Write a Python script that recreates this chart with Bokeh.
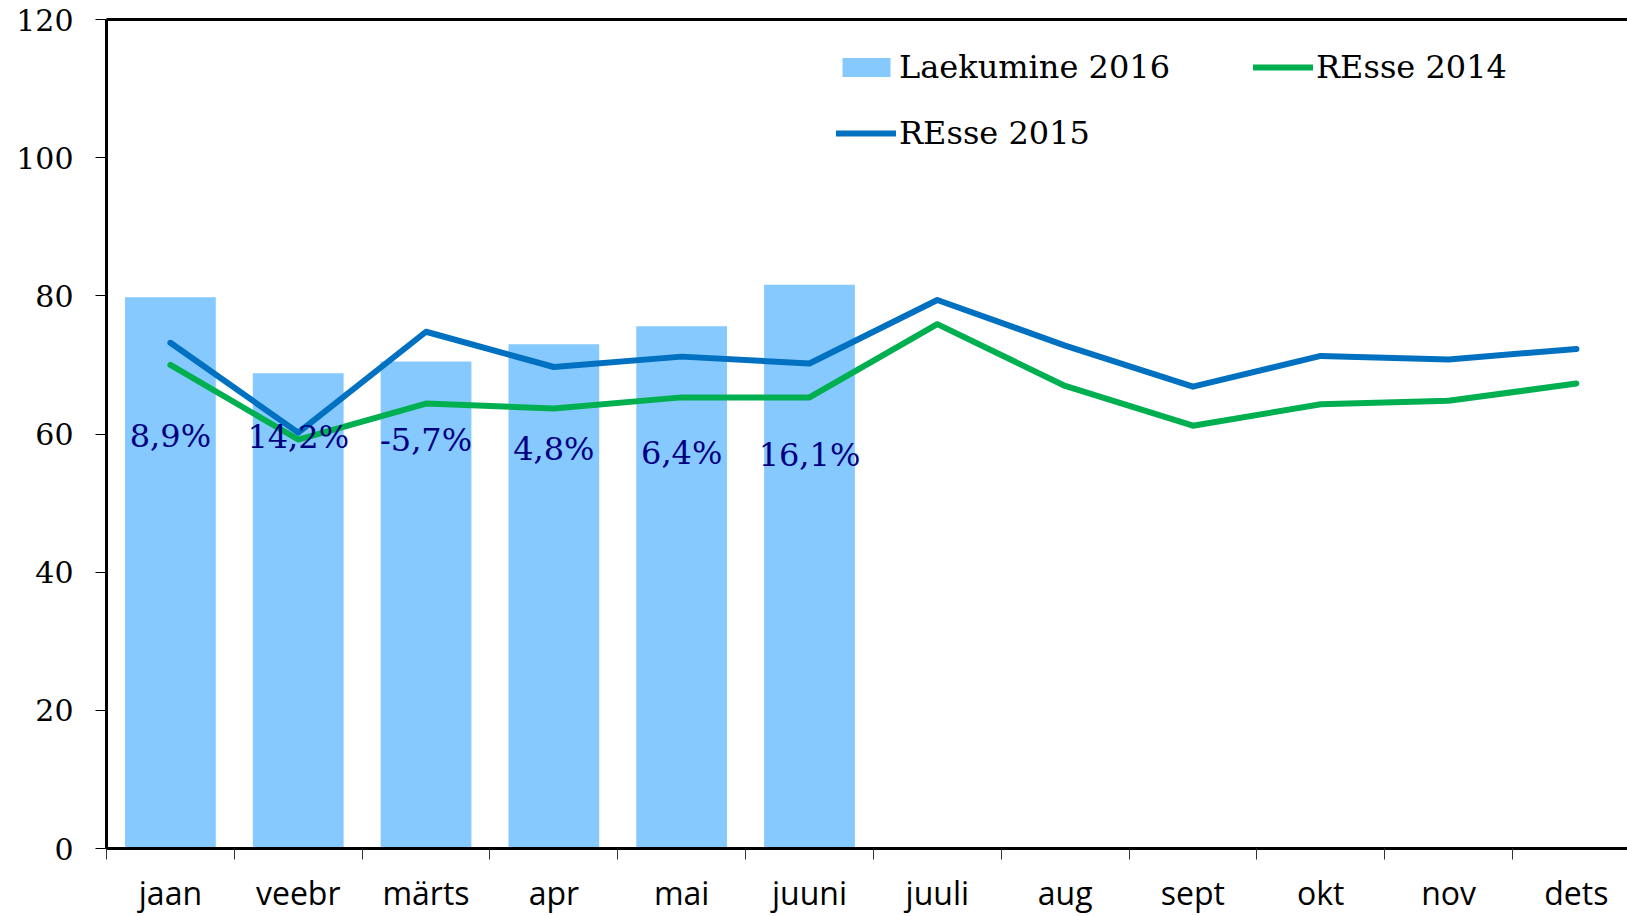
from bokeh.plotting import figure
from bokeh.models import (Range1d, FixedTicker, LinearAxis, Legend, LegendItem)
from bokeh.core.properties import value
from bokeh.embed import file_html
from bokeh.resources import INLINE

# ---- data ----
months = ["jaan", "veebr", "märts", "apr", "mai", "juuni",
          "juuli", "aug", "sept", "okt", "nov", "dets"]
laekumine_2016 = [79.8, 68.8, 70.5, 73.0, 75.6, 81.6]
resse_2014 = [70.0, 59.2, 64.4, 63.7, 65.3, 65.3, 75.9, 66.95, 61.2, 64.3, 64.8, 67.3]
resse_2015 = [73.2, 60.2, 74.8, 69.7, 71.2, 70.2, 79.4, 72.8, 66.85, 71.3, 70.8, 72.3]
pct_labels = ["8,9%", "14,2%", "-5,7%", "4,8%", "6,4%", "16,1%"]
pct_label_y = [59.7, 59.5, 59.2, 57.9, 57.3, 56.9]
y_ticks = [0, 20, 40, 60, 80, 100, 120]

idx = list(range(len(months)))

SERIF = "DejaVu Serif"
SANS = "Open Sans"

p = figure(width=1627, height=916, output_backend="svg", toolbar_location=None,
           x_range=Range1d(-0.5, 11.4), y_range=Range1d(0, 120),
           min_border_left=106, min_border_right=0, min_border_top=19,
           min_border_bottom=67, x_axis_type=None, y_axis_type=None)
p.outline_line_color = None
p.background_fill_color = "white"
p.border_fill_color = "white"

# axes
yaxis = LinearAxis(ticker=FixedTicker(ticks=y_ticks))
yaxis.axis_line_width = 3
yaxis.axis_line_color = "black"
yaxis.major_tick_out = 11
yaxis.major_tick_in = 0
yaxis.major_tick_line_color = "black"
yaxis.minor_tick_line_color = None
yaxis.major_label_text_font = SERIF
yaxis.major_label_text_font_size = "30px"
yaxis.major_label_text_color = "black"
yaxis.major_label_standoff = 22
p.add_layout(yaxis, "left")

xaxis = LinearAxis(ticker=FixedTicker(ticks=idx, minor_ticks=[i - 0.5 for i in idx]))
xaxis.major_label_overrides = {i: m for i, m in zip(idx, months)}
xaxis.axis_line_width = 3
xaxis.axis_line_color = "black"
xaxis.major_tick_line_color = None
xaxis.major_tick_out = 0
xaxis.major_tick_in = 0
xaxis.minor_tick_out = 11
xaxis.minor_tick_in = 0
xaxis.minor_tick_line_color = "#333333"
xaxis.minor_tick_line_width = 1
xaxis.major_label_text_font = SANS
xaxis.major_label_text_font_size = "32px"
xaxis.major_label_text_color = "black"
xaxis.major_label_standoff = 11
p.add_layout(xaxis, "below")

top = LinearAxis(ticker=FixedTicker(ticks=[]))
top.axis_line_width = 3
top.axis_line_color = "black"
top.major_tick_line_color = None
top.minor_tick_line_color = None
top.major_label_text_font_size = "0px"
top.major_label_standoff = 0
top.major_tick_out = 0
p.add_layout(top, "above")

p.ygrid.ticker = FixedTicker(ticks=y_ticks)
p.ygrid.grid_line_color = "#505050"
p.ygrid.grid_line_dash = "2 1"
p.ygrid.grid_line_width = 1

# glyphs
bars = p.vbar(x=idx[:len(laekumine_2016)], top=laekumine_2016, width=0.71,
              fill_color="#85C9FF", line_color=None)
g14 = p.line(x=idx, y=resse_2014, line_color="#00B050", line_width=6,
             line_cap="round", line_join="round")
g15 = p.line(x=idx, y=resse_2015, line_color="#0070C0", line_width=6,
             line_cap="round", line_join="round")

p.text(x=idx[:len(pct_labels)], y=pct_label_y, text=pct_labels,
       text_font=value(SERIF), text_font_size="32px", text_color="#000080",
       text_align="center", text_baseline="middle")

legend = Legend(items=[LegendItem(label="Laekumine 2016", renderers=[bars]),
                       LegendItem(label="REsse 2014", renderers=[g14]),
                       LegendItem(label="REsse 2015", renderers=[g15])],
                orientation="horizontal", ncols=2,
                location=(730, 696))
legend.label_text_font = SERIF
legend.label_text_font_size = "32px"
legend.label_text_color = "black"
legend.glyph_width = 60
legend.glyph_height = 24
legend.label_standoff = 3
legend.label_width = 326
legend.label_height = 37
legend.spacing = 28
legend.padding = 18
legend.margin = 0
legend.border_line_color = None
legend.background_fill_color = "white"
legend.background_fill_alpha = 1.0
p.add_layout(legend, "center")

open("out.html", "w").write(file_html(p, INLINE))
